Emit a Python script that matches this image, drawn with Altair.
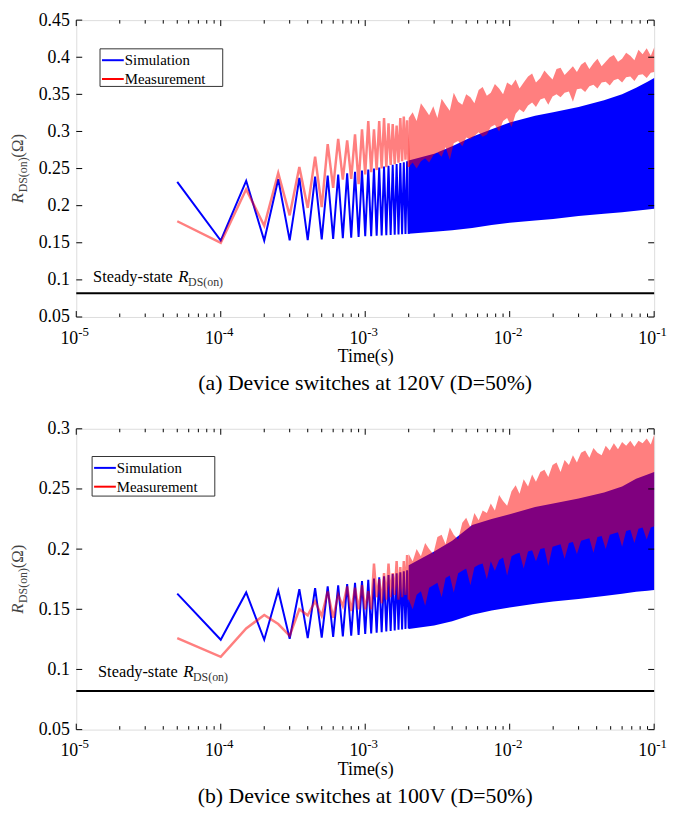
import altair as alt
import pandas as pd

FONT = "Liberation Serif"
W = 584
H_A = 300
H_B = 304

# ---------------- data ----------------
# switching-edge sample instants for the early (resolved) part of the waveform (s)
t_zig = [5e-05, 0.0001, 0.00015, 0.0002, 0.00025, 0.0003, 0.00035, 0.0004, 0.00045, 0.0005,
         0.00055, 0.0006, 0.00065, 0.0007, 0.00075, 0.0008, 0.00085, 0.0009, 0.00095, 0.001,
         0.00105, 0.0011, 0.00115, 0.0012, 0.00125, 0.0013, 0.00135, 0.0014, 0.00145, 0.0015,
         0.00155, 0.0016, 0.00165, 0.0017, 0.00175, 0.0018, 0.00185, 0.0019, 0.00195, 0.002]

# (a) 120 V
sim_a_zig = [0.232, 0.153, 0.2335, 0.153, 0.2357, 0.1532, 0.2375, 0.1536, 0.239, 0.1545,
             0.2405, 0.1552, 0.242, 0.1562, 0.2435, 0.157, 0.2455, 0.1578, 0.2472, 0.1587,
             0.2487, 0.159, 0.25, 0.1594, 0.2513, 0.1598, 0.2526, 0.1601, 0.2538, 0.1604,
             0.255, 0.1608, 0.2562, 0.1611, 0.2574, 0.1614, 0.2586, 0.1617, 0.2598, 0.162]
meas_a_zig = [0.179, 0.150, 0.222, 0.173, 0.244, 0.187, 0.252, 0.197, 0.266, 0.198,
              0.283, 0.224, 0.290, 0.235, 0.288, 0.236, 0.296, 0.229, 0.303, 0.242,
              0.314, 0.245, 0.303, 0.248, 0.314, 0.250, 0.318, 0.252, 0.311, 0.255,
              0.310, 0.256, 0.308, 0.258, 0.318, 0.260, 0.320, 0.262, 0.315, 0.252]
# (b) 100 V
sim_b_zig = [0.163, 0.1247, 0.164, 0.1247, 0.1656, 0.1255, 0.1667, 0.126, 0.1675, 0.1265,
             0.169, 0.127, 0.170, 0.1275, 0.171, 0.128, 0.172, 0.1287, 0.1735, 0.1295,
             0.1745, 0.130, 0.1755, 0.1305, 0.1765, 0.131, 0.1775, 0.1315, 0.1785, 0.132,
             0.1793, 0.1325, 0.180, 0.133, 0.1808, 0.1333, 0.1816, 0.1337, 0.1824, 0.134]
meas_b_zig = [0.126, 0.1105, 0.134, 0.1453, 0.1377, 0.128, 0.150, 0.145, 0.1567, 0.1445,
              0.1648, 0.143, 0.162, 0.1526, 0.169, 0.1485, 0.168, 0.150, 0.170, 0.150,
              0.165, 0.150, 0.188, 0.160, 0.175, 0.155, 0.180, 0.158, 0.188, 0.160,
              0.180, 0.162, 0.190, 0.158, 0.185, 0.160, 0.190, 0.162, 0.195, 0.158]

# dense part: simulated waveform envelope (lower / upper)
t_sim_band = [0.002, 0.003, 0.004, 0.0055, 0.0075, 0.01, 0.015, 0.02, 0.03, 0.045,
              0.06, 0.075, 0.09, 0.1]
sim_a_lo = [0.162, 0.165, 0.167, 0.170, 0.174, 0.177, 0.180, 0.182, 0.186, 0.189,
            0.191, 0.193, 0.195, 0.196]
sim_a_hi = [0.261, 0.270, 0.280, 0.293, 0.303, 0.312, 0.321, 0.326, 0.333, 0.342,
            0.350, 0.359, 0.367, 0.372]
sim_b_lo = [0.1336, 0.1365, 0.140, 0.1455, 0.149, 0.1515, 0.1545, 0.1565, 0.1585, 0.161,
            0.163, 0.1645, 0.1655, 0.166]
sim_b_hi = [0.1866, 0.198, 0.207, 0.220, 0.225, 0.229, 0.235, 0.238, 0.242, 0.247,
            0.252, 0.2585, 0.262, 0.264]

# dense part: measured waveform envelope (lower / upper, noisy)
t_meas_band = [0.002, 0.00213, 0.00227, 0.00243, 0.0026, 0.00277, 0.00296, 0.00316, 0.00338, 0.0036,
               0.00385, 0.0041, 0.0044, 0.0047, 0.005, 0.00535, 0.0057, 0.0061, 0.0065, 0.00695,
               0.0074, 0.0079, 0.00845, 0.009, 0.0096, 0.0103, 0.011, 0.0117, 0.0125, 0.0134,
               0.0143, 0.0152, 0.0163, 0.0174, 0.0185, 0.0198, 0.0211, 0.0225, 0.024, 0.0257,
               0.0274, 0.0292, 0.0312, 0.0333, 0.0356, 0.038, 0.0405, 0.0433, 0.0462, 0.0493,
               0.0526, 0.0562, 0.06, 0.064, 0.0684, 0.073, 0.0779, 0.0832, 0.0888, 0.0948, 0.1]
meas_a_hi = [0.318, 0.326, 0.314, 0.338, 0.330, 0.322, 0.334, 0.318, 0.344, 0.336,
             0.328, 0.352, 0.340, 0.336, 0.350, 0.346, 0.338, 0.356, 0.360, 0.348,
             0.352, 0.364, 0.358, 0.350, 0.366, 0.362, 0.370, 0.358, 0.366, 0.374,
             0.378, 0.366, 0.372, 0.382, 0.376, 0.370, 0.384, 0.386, 0.376, 0.382,
             0.388, 0.380, 0.390, 0.394, 0.384, 0.392, 0.398, 0.388, 0.394, 0.400,
             0.403, 0.394, 0.398, 0.406, 0.402, 0.396, 0.410, 0.404, 0.412, 0.402, 0.413]
meas_a_lo = [0.252, 0.258, 0.250, 0.260, 0.264, 0.258, 0.268, 0.272, 0.266, 0.279,
             0.262, 0.284, 0.287, 0.280, 0.292, 0.290, 0.294, 0.299, 0.293, 0.296,
             0.306, 0.309, 0.300, 0.314, 0.318, 0.306, 0.324, 0.330, 0.326, 0.335,
             0.339, 0.333, 0.343, 0.345, 0.336, 0.347, 0.350, 0.346, 0.352, 0.354,
             0.340, 0.357, 0.358, 0.353, 0.361, 0.363, 0.358, 0.366, 0.367, 0.362,
             0.369, 0.371, 0.366, 0.373, 0.374, 0.368, 0.376, 0.377, 0.372, 0.379, 0.380]
meas_b_hi = [0.196, 0.190, 0.200, 0.194, 0.205, 0.200, 0.196, 0.210, 0.212, 0.204,
             0.218, 0.212, 0.208, 0.222, 0.226, 0.218, 0.230, 0.224, 0.232, 0.230,
             0.238, 0.232, 0.245, 0.240, 0.236, 0.248, 0.253, 0.246, 0.258, 0.252,
             0.262, 0.256, 0.264, 0.266, 0.260, 0.270, 0.272, 0.264, 0.274, 0.270,
             0.278, 0.272, 0.280, 0.282, 0.276, 0.284, 0.280, 0.278, 0.286, 0.282,
             0.288, 0.283, 0.289, 0.286, 0.290, 0.285, 0.290, 0.288, 0.292, 0.287, 0.295]
meas_b_lo = [0.158, 0.150, 0.162, 0.165, 0.153, 0.168, 0.170, 0.172, 0.160, 0.176,
             0.178, 0.164, 0.180, 0.182, 0.184, 0.170, 0.185, 0.187, 0.188, 0.175,
             0.190, 0.182, 0.191, 0.193, 0.178, 0.194, 0.196, 0.197, 0.184, 0.198,
             0.199, 0.190, 0.200, 0.201, 0.186, 0.202, 0.203, 0.204, 0.192, 0.205,
             0.206, 0.196, 0.207, 0.208, 0.209, 0.197, 0.210, 0.211, 0.200, 0.212,
             0.213, 0.214, 0.202, 0.215, 0.216, 0.205, 0.217, 0.218, 0.208, 0.218, 0.219]

steady_state = 0.082

x_decades = [1e-5, 1e-4, 1e-3, 1e-2, 1e-1]
x_exponents = ["-5", "-4", "-3", "-2", "-1"]
x_minor = [m * d for d in [1e-5, 1e-4, 1e-3, 1e-2] for m in range(2, 10)]
y_ticks_a = [0.05, 0.1, 0.15, 0.2, 0.25, 0.3, 0.35, 0.4, 0.45]
y_ticks_b = [0.05, 0.1, 0.15, 0.2, 0.25, 0.3]

caption_a = "(a) Device switches at 120V (D=50%)"
caption_b = "(b) Device switches at 100V (D=50%)"

BLUE = "#0000FF"
RED = "#FF0000"


def panel(H, sim_zig, meas_zig, sim_lo, sim_hi, meas_lo, meas_hi, y_dom, y_ticks,
          legend_box, steady_xy, caption):
    xs = alt.Scale(type="log", domain=[1e-5, 1e-1], nice=False)
    ys = alt.Scale(domain=y_dom, nice=False, zero=False)
    AX = alt.Axis(values=x_decades, labels=False, ticks=False, domain=False, grid=False,
                  title="Time(s)", titleFont=FONT, titleFontSize=18, titleFontWeight="normal",
                  titleColor="black", titlePadding=31)
    AY = alt.Axis(values=y_ticks, format="~g", labelFont=FONT, labelFontSize=18,
                  labelColor="black", ticks=False, domain=False, grid=False, title=None,
                  labelPadding=7)
    X = lambda f: alt.X(f, scale=xs, axis=AX)
    Y = lambda f: alt.Y(f, scale=ys, axis=AY)

    zig = pd.DataFrame({"t": t_zig, "sim": sim_zig, "meas": meas_zig})
    sband = pd.DataFrame({"t": t_sim_band, "lo": sim_lo, "hi": sim_hi})
    mband = pd.DataFrame({"t": t_meas_band, "lo": meas_lo, "hi": meas_hi})
    one = pd.DataFrame({"a": [0]})

    sim_line = alt.Chart(zig).mark_line(color=BLUE, strokeWidth=2).encode(
        x=X("t:Q"), y=Y("sim:Q"))
    sim_area = alt.Chart(sband).mark_area(color=BLUE, opacity=1).encode(
        x=X("t:Q"), y=Y("lo:Q"), y2="hi:Q")
    meas_line = alt.Chart(zig).mark_line(color=RED, opacity=0.5, strokeWidth=2.5).encode(
        x=X("t:Q"), y=Y("meas:Q"))
    meas_area = alt.Chart(mband).mark_area(color=RED, opacity=0.5).encode(
        x=X("t:Q"), y=Y("lo:Q"), y2="hi:Q")

    steady = alt.Chart(pd.DataFrame({"t0": [1e-5], "t1": [1e-1], "v": [steady_state]})
                       ).mark_rule(color="black", strokeWidth=2).encode(
        x=X("t0:Q"), x2="t1:Q", y=Y("v:Q"))

    # inward ticks (box style)
    dec = pd.DataFrame({"t": x_decades, "exp": x_exponents, "base": ["10"] * 5})
    mnr = pd.DataFrame({"t": x_minor})
    yt = pd.DataFrame({"v": y_ticks})
    tk = dict(color="black", strokeWidth=1)
    ticks = [
        alt.Chart(dec).mark_rule(**tk).encode(x=X("t:Q"), y=alt.value(0), y2=alt.value(6)),
        alt.Chart(dec).mark_rule(**tk).encode(x=X("t:Q"), y=alt.value(H), y2=alt.value(H - 6)),
        alt.Chart(mnr).mark_rule(**tk).encode(x=X("t:Q"), y=alt.value(0), y2=alt.value(3.5)),
        alt.Chart(mnr).mark_rule(**tk).encode(x=X("t:Q"), y=alt.value(H), y2=alt.value(H - 3.5)),
        alt.Chart(yt).mark_rule(**tk).encode(y=Y("v:Q"), x=alt.value(0), x2=alt.value(6)),
        alt.Chart(yt).mark_rule(**tk).encode(y=Y("v:Q"), x=alt.value(W), x2=alt.value(W - 6)),
    ]

    # x tick labels 10^k
    xl_base = alt.Chart(dec).mark_text(align="right", baseline="alphabetic", font=FONT,
                                       fontSize=18, color="black", dx=2).encode(
        x=X("t:Q"), y=alt.value(H + 27), text="base:N")
    xl_exp = alt.Chart(dec).mark_text(align="left", baseline="alphabetic", font=FONT,
                                      fontSize=13, color="black", dx=2).encode(
        x=X("t:Q"), y=alt.value(H + 19), text="exp:N")

    # y title  R_DS(on)(Ω)
    yc = H / 2
    tx = -59
    yt_r = alt.Chart(one).mark_text(angle=270, align="left", baseline="middle", font=FONT,
                                    fontSize=17, fontStyle="italic", color="#444", dx=-35).encode(
        x=alt.value(tx), y=alt.value(yc), text=alt.value("R"))
    yt_s = alt.Chart(one).mark_text(angle=270, align="left", baseline="middle", font=FONT,
                                    fontSize=12, color="#444", dx=-24, dy=5).encode(
        x=alt.value(tx), y=alt.value(yc), text=alt.value("DS(on)"))
    yt_o = alt.Chart(one).mark_text(angle=270, align="left", baseline="middle", font=FONT,
                                    fontSize=17, color="#444", dx=11).encode(
        x=alt.value(tx), y=alt.value(yc), text=alt.value("(Ω)"))

    # steady-state annotation
    sx, sy = steady_xy
    st1 = alt.Chart(one).mark_text(align="left", baseline="alphabetic", font=FONT,
                                   fontSize=16.5, color="black").encode(
        x=alt.value(sx), y=alt.value(sy), text=alt.value("Steady-state"))
    st2 = alt.Chart(one).mark_text(align="left", baseline="alphabetic", font=FONT,
                                   fontSize=17, fontStyle="italic", color="black").encode(
        x=alt.value(sx + 86), y=alt.value(sy), text=alt.value("R"))
    st3 = alt.Chart(one).mark_text(align="left", baseline="alphabetic", font=FONT,
                                   fontSize=12, color="#333").encode(
        x=alt.value(sx + 96), y=alt.value(sy + 4), text=alt.value("DS(on)"))

    # legend
    lx0, ly0, lx1, ly1 = legend_box
    r1 = ly0 + 11.5
    r2 = ly0 + 30.5
    leg = [
        alt.Chart(one).mark_rect(fill="white", stroke="#333", strokeWidth=1).encode(
            x=alt.value(lx0), x2=alt.value(lx1), y=alt.value(ly0), y2=alt.value(ly1)),
        alt.Chart(one).mark_rule(color=BLUE, strokeWidth=2).encode(
            x=alt.value(lx0 + 2), x2=alt.value(lx0 + 24), y=alt.value(r1)),
        alt.Chart(one).mark_rule(color=RED, strokeWidth=2).encode(
            x=alt.value(lx0 + 2), x2=alt.value(lx0 + 24), y=alt.value(r2)),
        alt.Chart(one).mark_text(align="left", baseline="middle", font=FONT, fontSize=15,
                                 color="black").encode(
            x=alt.value(lx0 + 25), y=alt.value(r1), text=alt.value("Simulation")),
        alt.Chart(one).mark_text(align="left", baseline="middle", font=FONT, fontSize=15,
                                 color="black").encode(
            x=alt.value(lx0 + 25), y=alt.value(r2), text=alt.value("Measurement")),
    ]

    return alt.layer(
        sim_line, sim_area, meas_line, meas_area, steady, *ticks,
        xl_base, xl_exp, yt_r, yt_s, yt_o, st1, st2, st3, *leg
    ).properties(
        width=W, height=H,
        title=alt.TitleParams(text=caption, orient="bottom", anchor="middle", font=FONT,
                              fontSize=22, fontWeight="normal", color="black",
                              baseline="top", offset=8),
    )


pa = panel(H_A, sim_a_zig, meas_a_zig, sim_a_lo, sim_a_hi, meas_a_lo, meas_a_hi,
           [0.05, 0.45], y_ticks_a, (24, 29, 148, 67), (17, 265), caption_a)
pb = panel(H_B, sim_b_zig, meas_b_zig, sim_b_lo, sim_b_hi, meas_b_lo, meas_b_hi,
           [0.05, 0.3], y_ticks_b, (16, 28, 140, 68), (22, 251), caption_b)

chart = alt.vconcat(pa, pb, spacing=24).properties(
    padding={"top": -2, "left": 0, "right": 0, "bottom": 0}
).configure_view(stroke="black", strokeWidth=1).configure(background="white")

chart.save("out.html", embed_options={"renderer": "svg", "actions": False})
